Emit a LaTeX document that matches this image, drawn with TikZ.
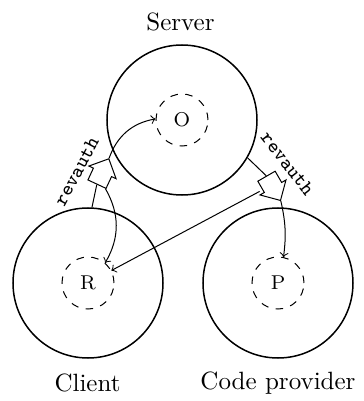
\documentclass[tikz,border=0pt]{standalone}
\usetikzlibrary{shapes.arrows,calc}
\begin{document}
\begin{tikzpicture}[x=0.4pt,y=0.4pt]
\tikzstyle{party}=[draw,semithick,circle,minimum size=60pt,inner sep=0pt]
\tikzstyle{role}=[draw,dashed,circle,minimum size=20.8pt,inner sep=0pt,font=\footnotesize]
\tikzstyle{msgarrow}=[draw,fill=white,single arrow,minimum height=11.2pt,inner xsep=0pt,inner ysep=3.8pt,single arrow head extend=2pt]
\tikzstyle{msglabel}=[font=\ttfamily\footnotesize,inner sep=0pt]
\useasboundingbox (0,0) rectangle (363,401);
% parties and their roles
\node[party] (server) at (182,281) {};
\node[role] (o) at (182,281) {O};
\node[party] (client) at (88,118) {};
\node[role] (r) at (88,118) {R};
\node[party] (provider) at (278,118) {};
\node[role] (p) at (278,118) {P};
\node (serverlabel) at (180.5,379) {Server};
\node (clientlabel) at (87.5,18) {Client};
\node (providerlabel) at (278,18) {Code provider};
% revauth messages
\node[msgarrow,rotate=65] (la) at (100.8,225) {};
\node[msgarrow,rotate=-60] (ra) at (271,217) {};
\node[msglabel,rotate=62] (llabel) at (76.5,229.5) {revauth};
\node[msglabel,rotate=-52] (rlabel) at (287.5,237.5) {revauth};
\coordinate (lside) at ($(la.tail)!3.8pt!-90:(la.tip)$);
\coordinate (rmid) at ($(ra.tail)!0.35!(ra.tip)$);
\coordinate (rside) at ($(rmid)!5.4pt!-90:(ra.tip)$);
\draw (client.87) -- (la.tail);
\draw [->] (la.tip) to[bend left=30] (o);
\draw [->] (lside) to[bend left=30] (r);
\draw (server.-30) -- (ra.tail);
\draw [->] (ra.tip) to[bend left=10] (p);
\draw [->] (rside) -- (r);
\end{tikzpicture}
\end{document}
